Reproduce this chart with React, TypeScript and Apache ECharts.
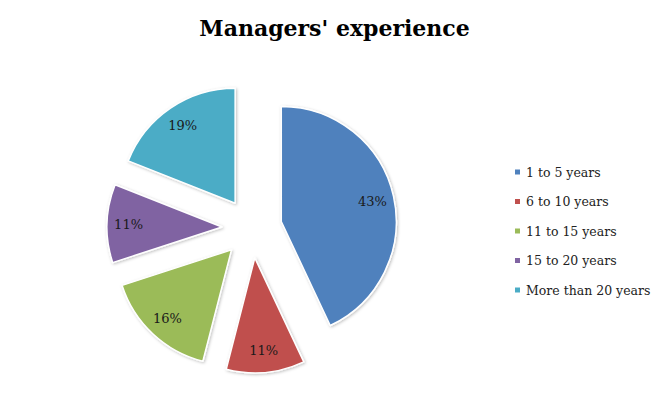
import React, { useEffect, useRef } from "react";
import * as echarts from "echarts";

const categories = ["1 to 5 years", "6 to 10 years", "11 to 15 years", "15 to 20 years", "More than 20 years"];
const values = [43, 11, 16, 11, 19];
const colors = ["#4F81BD", "#C0504D", "#9BBB59", "#8064A2", "#4BACC6"];
const titleText = "Managers' experience";

export default function App() {
  const ref = useRef<HTMLDivElement>(null);
  useEffect(() => {
    document.body.style.margin = "0";
    const chart = echarts.init(ref.current!, null, { renderer: "svg" });
    const data = categories.map((name, i) => ({
      name,
      value: values[i],
      selected: true,
      itemStyle: { color: colors[i] },
    }));
    chart.setOption({
      animation: false,
      title: {
        text: titleText,
        left: "center",
        top: 12,
        textStyle: { fontFamily: "DejaVu Serif", fontWeight: "bold", fontSize: 22, color: "#000" },
      },
      legend: {
        orient: "vertical",
        left: 508,
        top: 160,
        itemWidth: 7,
        itemHeight: 7,
        itemGap: 15.5,
        icon: "rect",
        data: categories,
        textStyle: { fontFamily: "DejaVu Serif", fontSize: 12.5, color: "#222", lineHeight: 14 },
      },
      series: [
        {
          type: "pie",
          center: [252, 228],
          radius: [0, 115],
          startAngle: 90,
          clockwise: true,
          selectedMode: "multiple",
          selectedOffset: 30,
          data,
          label: { show: false },
          labelLine: { show: false },
          itemStyle: { borderColor: "#fff", borderWidth: 1.5, shadowBlur: 3, shadowColor: "rgba(0,0,0,0.25)", shadowOffsetX: 1, shadowOffsetY: 1 },
          emphasis: { disabled: true },
        },
        {
          type: "pie",
          center: [252, 228],
          radius: [66, 115],
          startAngle: 90,
          clockwise: true,
          selectedMode: "multiple",
          selectedOffset: 30,
          silent: true,
          data: data.map((d) => ({ ...d, itemStyle: { color: "rgba(0,0,0,0)", borderWidth: 0 } })),
          label: {
            show: true,
            position: "inner",
            formatter: "{d}%",
            fontFamily: "DejaVu Serif",
            fontSize: 13,
            color: "#1a1a1a",
          },
          labelLine: { show: false },
          emphasis: { disabled: true },
        },
      ],
    });
    return () => chart.dispose();
  }, []);
  return <div ref={ref} style={{ width: 669, height: 407 }} />;
}
